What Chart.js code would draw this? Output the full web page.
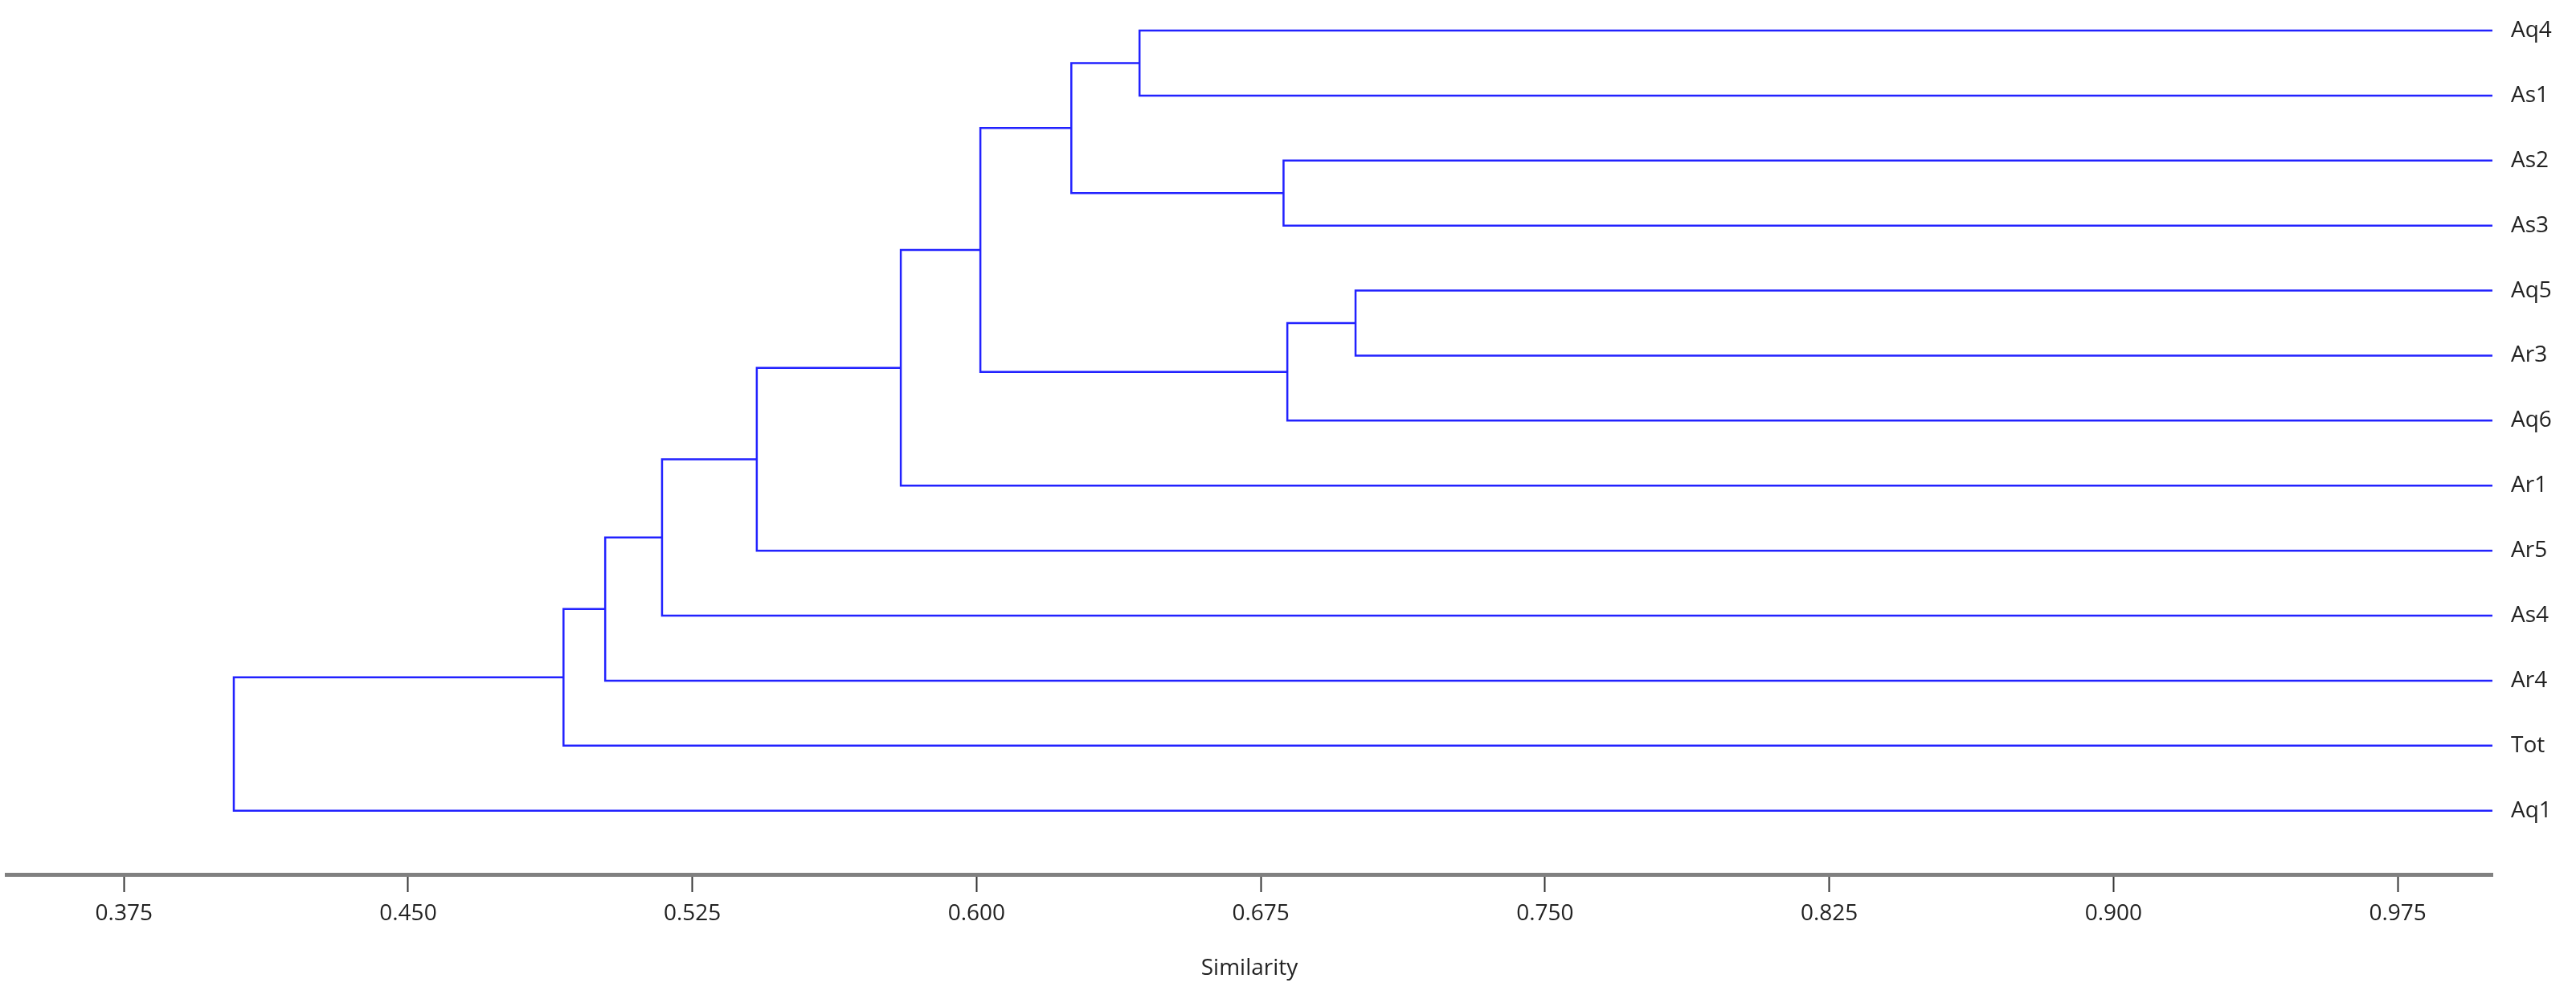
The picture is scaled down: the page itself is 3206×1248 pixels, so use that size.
<!DOCTYPE html>
<html><head><meta charset="utf-8">
<script src="https://cdn.jsdelivr.net/npm/chart.js@4"></script>
<style>html,body{margin:0;padding:0;background:#fff}#w{width:3206px;height:1248px}</style>
</head><body><div id="w"><canvas id="c"></canvas></div>
<script>
const leaves = ['Aq4','As1','As2','As3','Aq5','Ar3','Aq6','Ar1','Ar5','As4','Ar4','Tot','Aq1'];
// merges: [childA, childB, similarity]; node ids continue after leaves (13..24)
const mergeA = [0, 2, 13, 4, 16, 15, 18, 19, 20, 21, 22, 23];
const mergeB = [1, 3, 14, 5, 6, 17, 7, 8, 9, 10, 11, 12];
const mergeSim = [0.643, 0.681, 0.625, 0.700, 0.682, 0.601, 0.580, 0.542, 0.517, 0.502, 0.491, 0.404];
const xTicks = [0.375, 0.450, 0.525, 0.600, 0.675, 0.750, 0.825, 0.900, 0.975];
const xTickLabels = ['0.375','0.450','0.525','0.600','0.675','0.750','0.825','0.900','0.975'];
const leafSim = 1.0;

const nodeX = leaves.map(()=>leafSim), nodeY = leaves.map((_, i)=>i);
mergeA.forEach((a, k)=>{ const b = mergeB[k]; nodeX.push(mergeSim[k]); nodeY.push((nodeY[a]+nodeY[b])/2); });
const datasets = mergeA.map((a, k)=>{
  const b = mergeB[k], x = mergeSim[k];
  return {data:[{x:nodeX[a],y:nodeY[a]},{x:x,y:nodeY[a]},{x:x,y:nodeY[b]},{x:nodeX[b],y:nodeY[b]}],
    showLine:true, borderColor:'#2222ff', borderWidth:2.5, pointRadius:0, fill:false, tension:0};
});
const F = "'Open Sans', 'Noto Sans', sans-serif";
new Chart(document.getElementById('c'), {
  type:'scatter', data:{datasets},
  options:{responsive:true, maintainAspectRatio:false, animation:false,
    layout:{padding:{left:8,top:0,right:0,bottom:0}},
    plugins:{legend:{display:false}, tooltip:{enabled:false}},
    scales:{
      x:{type:'linear', min:0.344, max:1.0,
        afterBuildTicks:s=>{s.ticks = xTicks.map(v=>({value:v}));},
        afterFit:s=>{s.height=160; s.paddingLeft=0; s.paddingRight=0;},
        grid:{drawOnChartArea:false, drawTicks:true, tickLength:22, tickColor:'#333', tickWidth:2},
        border:{display:true, color:'#808080', width:5},
        ticks:{padding:10, color:'#222', font:{family:F,size:28}, maxRotation:0, autoSkip:false,
          callback:(v)=>{const i=xTicks.findIndex(t=>Math.abs(t-v)<1e-9); return i>=0?xTickLabels[i]:'';}},
        title:{display:true, text:'Similarity', color:'#222', font:{family:F,size:28}, padding:{top:0,bottom:26}}
      },
      y:{type:'linear', position:'right', reverse:true, min:-0.47, max:12.98,
        afterBuildTicks:s=>{s.ticks = leaves.map((_, i)=>({value:i}));},
        afterFit:s=>{s.width=104; s.paddingTop=0; s.paddingBottom=0;},
        grid:{display:false, drawTicks:false}, border:{display:false},
        ticks:{padding:23, color:'#222', font:{family:F,size:28}, autoSkip:false,
          callback:(v)=>leaves[Math.round(v)] ?? ''}
      }
    }
  }
});
</script></body></html>
